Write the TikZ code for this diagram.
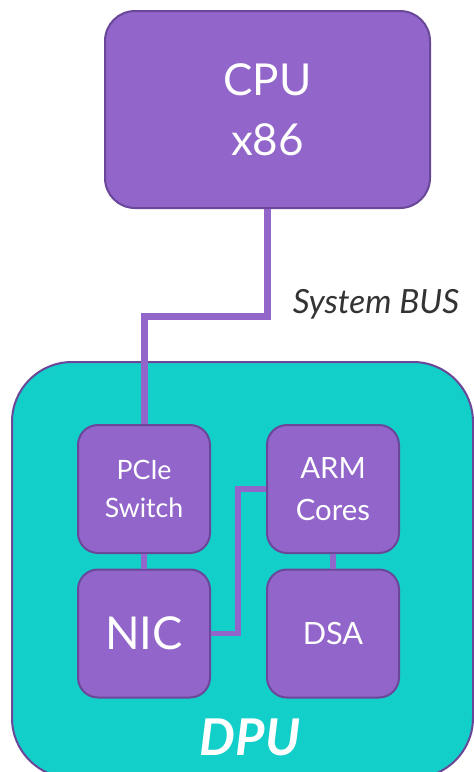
\documentclass[tikz,border=0pt]{standalone}
\usepackage{fontspec}
\setmainfont{Lato}
\definecolor{purpF}{HTML}{9165C9}
\definecolor{purpB}{HTML}{6A4799}
\definecolor{tealF}{HTML}{12CFC9}
\definecolor{txtG}{HTML}{333333}
\begin{document}
\begin{tikzpicture}[x=0.75pt,y=-0.75pt,
  blk/.style={draw=purpB, fill=purpF, line width=1.5pt, text=white, align=center, inner sep=0pt},
  small/.style={blk, rounded corners=15pt, minimum width=99pt, minimum height=96pt},
  link/.style={draw=purpF, line width=4.5pt}]
\useasboundingbox (0,0) rectangle (474,772);
\clip (0,0) rectangle (474,772);
\fill[white] (0,0) rectangle (474,772);
% DPU container
\node[draw=purpB, fill=tealF, line width=1.5pt, rounded corners=45pt, minimum width=345.75pt, minimum height=312pt, inner sep=0pt] (dpu) at (242.5,570) {};
\node[text=white, font=\fontsize{38}{42}\bfseries\itshape\selectfont] (dpulbl) at (250,737) {DPU};
% CPU
\node[blk, rounded corners=22.5pt, minimum width=243.75pt, minimum height=147.75pt, font=\fontsize{33}{45}\selectfont] (cpu) at (267.5,109.5) {CPU\\x86};
% inner blocks
\node[small, font=\fontsize{20}{28.5}\selectfont] (pcie) at (144,489) {PCIe\\Switch};
\node[small, font=\fontsize{34}{40}\selectfont] (nic) at (144,633.5) {NIC};
\node[small, font=\fontsize{22}{31.5}\selectfont] (arm) at (333,489) {ARM\\Cores};
\node[small, font=\fontsize{23}{28}\selectfont] (dsa) at (333,633.5) {DSA};
% bus
\draw[link, line width=5.25pt] (cpu.south) -- (cpu.south |- 0,316) -| (pcie.north);
\node[text=txtG, font=\fontsize{25}{28}\itshape\selectfont] (buslbl) at (376,304) {System BUS};
% inner links
\draw[link] (pcie) -- (nic);
\draw[link] (arm) -- (dsa);
\coordinate (mid) at (238,0);
\draw[link, line width=4pt] (nic.east) -- (nic.east -| mid) -- (mid |- arm.west) -- (arm.west);
\end{tikzpicture}
\end{document}
